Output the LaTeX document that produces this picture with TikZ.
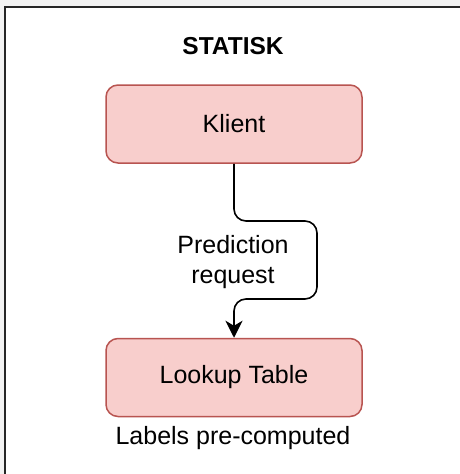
\documentclass[tikz,border=0pt]{standalone}
\usepackage{fontspec}
\setmainfont{Liberation Sans}
\usetikzlibrary{arrows.meta}
\definecolor{boxfill}{HTML}{F8CECC}
\definecolor{boxline}{HTML}{B85450}
\definecolor{outer}{HTML}{F2F2F2}
\begin{document}
\begin{tikzpicture}[x=1pt,y=-1pt,
  box/.style={draw=boxline,fill=boxfill,line width=1.5pt,rounded corners=12pt,minimum width=256pt,minimum height=78pt,inner sep=0pt,font=\fontsize{25}{30}\selectfont},
  lbl/.style={font=\fontsize{25}{30}\selectfont,inner sep=0pt,align=center},
  conn/.style={draw=black,line width=1.6pt,rounded corners=12pt,-{Stealth[length=17pt,width=17pt,inset=5pt]}}]
\useasboundingbox (0,0) rectangle (460,474);
\fill[outer] (0,0) rectangle (460,474);
\filldraw[fill=white,draw=black!85,line width=2pt] (5,7) rectangle (480,500);
\node[lbl,font=\fontsize{24.5}{29}\selectfont\bfseries] (title) at (233,46) {STATISK};
\node[box] (klient) at (234,124) {Klient};
\node[box] (lookup) at (234,377.5) {Lookup Table};
\node[lbl] (below) at (233,438) {Labels pre-computed};
\node[lbl] (req) at (233,262) {Prediction\\request};
\coordinate (c1) at (317,221);
\coordinate (c2) at (317,299);
\draw[conn] (klient.south) -- (klient.south |- c1) -- (c1) -- (c2) -- (lookup.north |- c2) -- (lookup.north);
\end{tikzpicture}
\end{document}
